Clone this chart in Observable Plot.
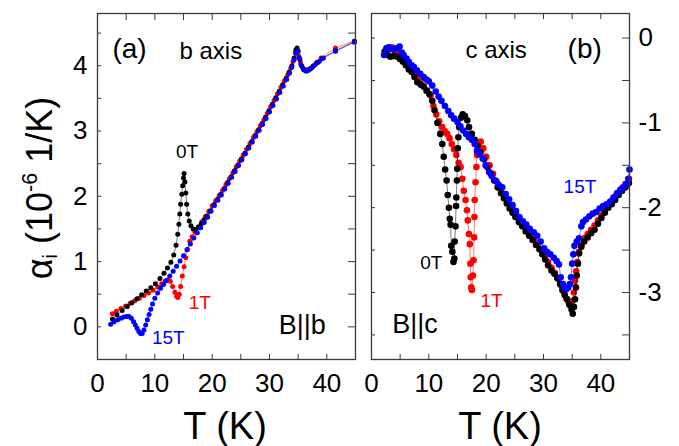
<!DOCTYPE html>
<html>
<head>
<meta charset="utf-8">
<script src="https://cdn.jsdelivr.net/npm/d3@7"></script>
<script src="https://cdn.jsdelivr.net/npm/@observablehq/plot@0.6"></script>
<style>
  html, body { margin: 0; padding: 0; background: #fff; }
  #wrap { position: relative; width: 679px; height: 446px; overflow: hidden; font-family: "Liberation Sans", Arial, sans-serif; }
  #wrap svg { position: absolute; top: 0; overflow: visible; }
  .xt { position: absolute; font-size: 38px; line-height: 1; white-space: nowrap; transform: translateX(-50%); }
  .yt { position: absolute; font-size: 36px; line-height: 1; white-space: nowrap; transform: translate(-50%, -50%) rotate(-90deg); }
  .yt sub { font-size: 0.55em; vertical-align: -0.25em; }
  .yt sup { font-size: 0.6em; vertical-align: 0.7em; }
</style>
</head>
<body>
<div id="wrap"></div>
<script>
// ---------- data: (T in K, alpha_i in 1e-6 1/K) ----------
// panel (a): b axis
const b0T = [[2.6,0.12],[3.4,0.18],[4.3,0.25],[5.2,0.31],[6.0,0.37],[6.9,0.43],[7.7,0.49],[8.5,0.55],[9.3,0.60],[10.1,0.66],[10.9,0.74],[11.6,0.82],[12.2,0.90],[12.8,0.99],[13.3,1.10],[13.7,1.25],[14.0,1.42],[14.2,1.57],[14.35,1.73],[14.5,1.88],[14.7,2.03],[14.85,2.16],[15.0,2.28],[15.1,2.35],[15.25,2.22],[15.4,2.05],[15.55,1.88],[15.75,1.73],[16.0,1.62],[16.3,1.55],[16.7,1.50],[17.1,1.49],[17.6,1.53],[18.1,1.58],[18.6,1.64],[19.1,1.70],[19.7,1.78],[20.3,1.87],[20.9,1.95],[21.5,2.03],[22.1,2.12],[22.7,2.21],[23.3,2.30],[23.9,2.39],[24.5,2.48],[25.1,2.57],[25.7,2.66],[26.3,2.75],[26.9,2.84],[27.5,2.93],[28.1,3.02],[28.7,3.11],[29.3,3.21],[29.9,3.31],[30.5,3.41],[31.1,3.51],[31.7,3.61],[32.3,3.71],[32.9,3.81],[33.4,3.90],[33.9,4.00],[34.3,4.12],[34.6,4.24],[34.8,4.27],[35.0,4.22],[35.3,4.10],[35.6,4.00],[36.0,3.94],[36.5,3.92],[37.1,3.95],[37.7,4.00],[38.4,4.05],[39.2,4.11],[41.5,4.23],[44.8,4.37]];
const b1T = [[2.6,0.20],[3.3,0.24],[4.1,0.28],[4.9,0.32],[5.7,0.36],[6.5,0.40],[7.3,0.44],[8.1,0.48],[8.9,0.52],[9.7,0.56],[10.5,0.61],[11.2,0.66],[11.8,0.70],[12.3,0.72],[12.7,0.70],[13.1,0.62],[13.5,0.53],[13.8,0.47],[14.0,0.45],[14.25,0.50],[14.5,0.62],[14.8,0.78],[15.1,0.92],[15.4,1.06],[15.7,1.19],[16.1,1.31],[16.5,1.38],[17.0,1.45],[17.6,1.53],[18.2,1.61],[18.8,1.69],[19.4,1.77],[20.0,1.85],[20.6,1.93],[21.2,2.01],[21.8,2.09],[22.4,2.18],[23.0,2.27],[23.6,2.36],[24.2,2.45],[24.8,2.54],[25.4,2.63],[26.0,2.72],[26.6,2.81],[27.2,2.90],[27.8,2.99],[28.4,3.08],[29.0,3.17],[29.6,3.27],[30.2,3.37],[30.8,3.47],[31.4,3.57],[32.0,3.67],[32.6,3.77],[33.2,3.86],[33.7,3.96],[34.1,4.07],[34.5,4.20],[34.8,4.25],[35.1,4.15],[35.4,4.05],[35.8,3.97],[36.3,3.94],[36.9,3.95],[37.5,3.99],[38.2,4.05],[39.0,4.12],[41.5,4.27],[44.8,4.38]];
const b15T = [[2.3,0.04],[2.9,0.08],[3.5,0.11],[4.1,0.13],[4.6,0.15],[5.1,0.16],[5.5,0.16],[5.9,0.13],[6.3,0.08],[6.6,0.03],[6.9,-0.02],[7.2,-0.07],[7.5,-0.10],[7.8,-0.10],[8.1,-0.05],[8.4,0.03],[8.7,0.11],[9.0,0.19],[9.3,0.27],[9.6,0.35],[10.0,0.44],[10.5,0.52],[11.0,0.59],[11.5,0.65],[12.0,0.71],[12.6,0.78],[13.2,0.85],[13.8,0.93],[14.4,1.01],[15.0,1.09],[15.6,1.18],[16.2,1.27],[16.8,1.36],[17.4,1.44],[18.0,1.52],[18.6,1.60],[19.2,1.68],[19.8,1.77],[20.4,1.86],[21.0,1.94],[21.6,2.02],[22.2,2.11],[22.8,2.20],[23.4,2.29],[24.0,2.38],[24.6,2.47],[25.2,2.56],[25.8,2.65],[26.4,2.74],[27.0,2.83],[27.6,2.92],[28.2,3.01],[28.8,3.10],[29.4,3.19],[30.0,3.29],[30.6,3.39],[31.2,3.49],[31.8,3.59],[32.4,3.69],[33.0,3.79],[33.5,3.89],[33.9,3.98],[34.3,4.09],[34.6,4.19],[34.9,4.22],[35.2,4.12],[35.5,4.01],[35.9,3.95],[36.3,3.92],[36.8,3.93],[37.4,3.97],[38.0,4.02],[38.7,4.07],[39.4,4.12],[41.5,4.22],[44.8,4.36]];

// panel (b): c axis
const c0T = [[2.3,-0.16],[2.8,-0.20],[3.3,-0.22],[3.9,-0.21],[4.5,-0.22],[5.0,-0.25],[5.5,-0.28],[6.0,-0.32],[6.5,-0.37],[7.0,-0.40],[7.5,-0.46],[8.0,-0.52],[8.6,-0.55],[9.1,-0.57],[9.6,-0.62],[10.1,-0.66],[10.6,-0.74],[11.0,-0.85],[11.5,-1.00],[12.0,-1.13],[12.35,-1.25],[12.6,-1.40],[12.85,-1.55],[13.1,-1.68],[13.3,-1.85],[13.5,-2.00],[13.65,-2.13],[13.8,-2.20],[13.9,-2.45],[14.1,-2.52],[14.3,-2.64],[14.45,-2.60],[14.5,-2.40],[14.65,-2.22],[14.75,-1.98],[14.8,-1.88],[14.9,-1.68],[14.95,-1.54],[15.05,-1.30],[15.15,-1.17],[15.3,-1.05],[15.6,-0.94],[15.9,-0.90],[16.3,-0.92],[16.7,-0.97],[17.0,-1.05],[17.5,-1.13],[18.0,-1.20],[18.5,-1.27],[19.0,-1.35],[19.6,-1.43],[20.2,-1.52],[20.8,-1.60],[21.4,-1.68],[22.0,-1.76],[22.6,-1.83],[23.1,-1.89],[23.6,-1.95],[24.1,-2.01],[24.6,-2.06],[25.1,-2.11],[25.7,-2.17],[26.3,-2.22],[26.9,-2.28],[27.5,-2.33],[28.1,-2.38],[28.7,-2.44],[29.3,-2.49],[29.8,-2.55],[30.3,-2.61],[30.8,-2.68],[31.4,-2.74],[31.9,-2.78],[32.4,-2.83],[32.9,-2.90],[33.3,-2.97],[33.7,-3.03],[34.1,-3.08],[34.5,-3.14],[34.9,-3.20],[35.1,-3.25],[35.3,-3.17],[35.5,-3.08],[35.65,-2.94],[35.8,-2.80],[36.0,-2.66],[36.2,-2.54],[36.6,-2.46],[37.1,-2.40],[37.7,-2.35],[38.3,-2.30],[38.9,-2.26],[39.5,-2.19],[40.1,-2.12],[40.7,-2.06],[41.3,-2.00],[41.9,-1.96],[42.5,-1.91],[43.1,-1.85],[43.7,-1.80],[44.3,-1.76],[44.9,-1.71]];
const c1T = [[2.5,-0.15],[3.0,-0.13],[3.6,-0.11],[4.1,-0.15],[4.6,-0.18],[5.2,-0.22],[5.9,-0.28],[6.5,-0.33],[7.0,-0.38],[7.5,-0.42],[8.0,-0.46],[8.5,-0.51],[9.1,-0.57],[9.7,-0.62],[10.3,-0.68],[10.8,-0.80],[11.3,-0.90],[11.8,-0.98],[12.35,-1.05],[12.8,-1.10],[13.2,-1.13],[13.6,-1.18],[14.0,-1.25],[14.4,-1.31],[14.8,-1.38],[15.2,-1.47],[15.55,-1.52],[15.85,-1.66],[16.1,-1.80],[16.4,-1.91],[16.65,-2.03],[16.8,-2.15],[17.0,-2.31],[17.15,-2.43],[17.25,-2.66],[17.3,-2.82],[17.4,-2.94],[17.5,-2.97],[17.7,-2.80],[17.8,-2.62],[17.9,-2.35],[17.95,-2.11],[18.0,-1.91],[18.15,-1.70],[18.3,-1.52],[18.4,-1.38],[18.6,-1.26],[19.05,-1.22],[19.5,-1.30],[20.0,-1.40],[20.6,-1.50],[21.2,-1.60],[21.8,-1.69],[22.4,-1.77],[23.0,-1.84],[23.6,-1.91],[24.2,-1.97],[24.8,-2.03],[25.4,-2.10],[26.0,-2.16],[26.6,-2.22],[27.2,-2.27],[27.8,-2.33],[28.4,-2.38],[29.0,-2.44],[29.6,-2.50],[30.2,-2.57],[30.8,-2.64],[31.4,-2.71],[32.0,-2.77],[32.6,-2.84],[33.1,-2.92],[33.6,-3.00],[34.0,-3.07],[34.4,-3.12],[34.7,-3.16],[35.0,-3.10],[35.3,-3.00],[35.5,-2.86],[35.7,-2.75],[35.9,-2.64],[36.2,-2.52],[36.6,-2.44],[37.1,-2.36],[37.7,-2.31],[38.3,-2.26],[38.9,-2.21],[39.5,-2.15],[40.1,-2.09],[40.7,-2.03],[41.3,-1.97],[41.9,-1.92],[42.5,-1.87],[43.1,-1.82],[43.7,-1.77],[44.3,-1.72],[44.9,-1.66]];
const c15T = [[2.2,-0.20],[2.6,-0.12],[3.0,-0.11],[3.5,-0.13],[3.9,-0.13],[4.4,-0.12],[4.9,-0.10],[5.3,-0.17],[5.6,-0.20],[6.1,-0.24],[6.5,-0.28],[7.0,-0.32],[7.4,-0.34],[7.9,-0.38],[8.5,-0.42],[9.1,-0.46],[9.6,-0.49],[10.0,-0.51],[10.6,-0.56],[11.2,-0.63],[11.7,-0.69],[12.2,-0.74],[12.8,-0.80],[13.4,-0.86],[13.9,-0.91],[14.4,-0.95],[15.0,-0.99],[15.5,-1.04],[16.0,-1.09],[16.5,-1.13],[17.0,-1.17],[17.5,-1.20],[18.0,-1.25],[18.4,-1.33],[18.9,-1.37],[19.4,-1.42],[19.9,-1.50],[20.5,-1.58],[21.0,-1.63],[21.6,-1.68],[22.2,-1.73],[22.8,-1.76],[23.4,-1.84],[24.0,-1.90],[24.6,-1.97],[25.2,-2.04],[25.8,-2.11],[26.4,-2.16],[27.0,-2.20],[27.6,-2.25],[28.3,-2.29],[28.9,-2.33],[29.5,-2.40],[30.1,-2.48],[30.6,-2.52],[31.2,-2.55],[31.8,-2.59],[32.3,-2.63],[32.7,-2.67],[33.0,-2.82],[33.4,-2.90],[33.7,-2.95],[34.0,-2.96],[34.3,-2.94],[34.6,-2.90],[34.8,-2.82],[35.0,-2.66],[35.2,-2.55],[35.4,-2.45],[35.8,-2.40],[36.2,-2.36],[36.6,-2.22],[36.9,-2.17],[37.4,-2.14],[38.0,-2.10],[38.6,-2.07],[39.2,-2.05],[39.8,-2.01],[40.4,-1.98],[41.0,-1.96],[41.6,-1.93],[42.2,-1.88],[42.8,-1.83],[43.4,-1.79],[43.9,-1.76],[44.4,-1.72],[44.8,-1.66],[45.0,-1.55]];

// ticks
const xTickLabels = [0, 10, 20, 30, 40];
const xMinorTicks = [5, 10, 15, 20, 25, 30, 35, 40];
const yTickLabelsA = [0, 1, 2, 3, 4];
const yMinorA = [-0.5, 0, 0.5, 1, 1.5, 2, 2.5, 3, 3.5, 4, 4.5];
const yTickLabelsB = [0, -1, -2, -3];
const yMinorB = [0, -0.5, -1, -1.5, -2, -2.5, -3, -3.5];

// annotations (placed in data units)
const notesA = [
  {T: 2.6, v: 4.12, text: "(a)", size: 28, color: "#000"},
  {T: 14.3, v: 4.11, text: "b axis", size: 24, color: "#000"},
  {T: 31.6, v: -0.11, text: "B||b", size: 27, color: "#000"},
  {T: 13.7, v: 2.59, text: "0T", size: 19, color: "#000"},
  {T: 15.9, v: 0.28, text: "1T", size: 19, color: "#ff0000"},
  {T: 9.5, v: -0.26, text: "15T", size: 19, color: "#0000ff"}
];
const notesB = [
  {T: 16.4, v: -0.24, text: "c axis", size: 24, color: "#000"},
  {T: 34.2, v: -0.23, text: "(b)", size: 28, color: "#000"},
  {T: 3.6, v: -3.48, text: "B||c", size: 27, color: "#000"},
  {T: 8.5, v: -2.72, text: "0T", size: 19, color: "#000"},
  {T: 19.0, v: -3.17, text: "1T", size: 19, color: "#ff0000"},
  {T: 33.5, v: -1.83, text: "15T", size: 19, color: "#0000ff"}
];

const FONT = '"Liberation Sans", Arial, sans-serif';
const FRAME = "#3a3a3a";
const COL = {red: "#ff0000", black: "#000000", blue: "#0000ff"};

function seriesMarks(data, color, r) {
  return [
    Plot.line(data, {x: d => d[0], y: d => d[1], stroke: color, strokeWidth: 0.7, strokeOpacity: 0.75}),
    Plot.dot(data, {x: d => d[0], y: d => d[1], r, fill: color, stroke: "none"})
  ];
}
function noteMarks(notes) {
  return notes.map(n => Plot.text([n], {x: "T", y: "v", text: "text", fill: "color", fontSize: n.size, textAnchor: "start", lineAnchor: "bottom"}));
}

const H = 446, MT = 13, MB = 87;

const left = Plot.plot({
  width: 360, height: H,
  marginLeft: 97, marginRight: 5, marginTop: MT, marginBottom: MB,
  x: {domain: [0, 45], label: null},
  y: {domain: [-0.5, 4.8], label: null},
  color: {type: "identity"},
  style: {fontFamily: FONT, background: "transparent", color: "#000"},
  marks: [
    ...seriesMarks(b1T, COL.red, 2.5),
    ...seriesMarks(b0T, COL.black, 2.5),
    ...seriesMarks(b15T, COL.blue, 2.5),
    Plot.frame({stroke: FRAME, strokeWidth: 1.3}),
    Plot.axisX({anchor: "bottom", ticks: xMinorTicks, tickSize: -5, tickFormat: () => "", label: null, stroke: FRAME}),
    Plot.axisX({anchor: "top", ticks: xMinorTicks, tickSize: -6, tickFormat: () => "", label: null, stroke: FRAME}),
    Plot.axisY({anchor: "left", ticks: yMinorA, tickSize: -4, tickFormat: () => "", label: null, stroke: FRAME}),
    Plot.axisY({anchor: "right", ticks: yMinorA, tickSize: -8, tickFormat: () => "", label: null, stroke: FRAME}),
    Plot.axisX({anchor: "bottom", ticks: xTickLabels, tickSize: 0, tickPadding: 14, fontSize: 26, tickFormat: d => String(d), label: null}),
    Plot.axisY({anchor: "left", ticks: yTickLabelsA, tickSize: 0, tickPadding: 10, fontSize: 26, tickFormat: d => String(d), label: null}),
    ...noteMarks(notesA)
  ]
});

const right = Plot.plot({
  width: 319, height: H,
  marginLeft: 11, marginRight: 50, marginTop: MT, marginBottom: MB,
  x: {domain: [0, 45], label: null},
  y: {domain: [-3.79, 0.29], label: null},
  color: {type: "identity"},
  style: {fontFamily: FONT, background: "transparent", color: "#000"},
  marks: [
    ...seriesMarks(c1T, COL.red, 3.3),
    ...seriesMarks(c0T, COL.black, 3.3),
    ...seriesMarks(c15T, COL.blue, 3.3),
    Plot.frame({stroke: FRAME, strokeWidth: 1.3}),
    Plot.axisX({anchor: "bottom", ticks: xMinorTicks, tickSize: -5, tickFormat: () => "", label: null, stroke: FRAME}),
    Plot.axisX({anchor: "top", ticks: xMinorTicks, tickSize: -5, tickFormat: () => "", label: null, stroke: FRAME}),
    Plot.axisY({anchor: "left", ticks: yMinorB, tickSize: -4, tickFormat: () => "", label: null, stroke: FRAME}),
    Plot.axisY({anchor: "right", ticks: yMinorB, tickSize: -8, tickFormat: () => "", label: null, stroke: FRAME}),
    Plot.axisX({anchor: "bottom", ticks: xTickLabels, tickSize: 0, tickPadding: 14, fontSize: 26, tickFormat: d => String(d), label: null}),
    Plot.axisY({anchor: "right", ticks: yTickLabelsB, tickSize: 0, tickPadding: 9, fontSize: 26, tickFormat: d => String(d), label: null}),
    ...noteMarks(notesB)
  ]
});

const wrap = document.getElementById("wrap");
left.style.left = "0px";
right.style.left = "360px";
wrap.appendChild(left);
wrap.appendChild(right);

function addDiv(cls, html, x, y) {
  const d = document.createElement("div");
  d.className = cls;
  d.innerHTML = html;
  d.style.left = x + "px";
  d.style.top = y + "px";
  wrap.appendChild(d);
}
addDiv("xt", "T (K)", 225, 407);
addDiv("xt", "T (K)", 500, 407);
addDiv("yt", "&alpha;<sub>i</sub> (10<sup>-6</sup> 1/K)", 40, 188);
</script>
</body>
</html>
